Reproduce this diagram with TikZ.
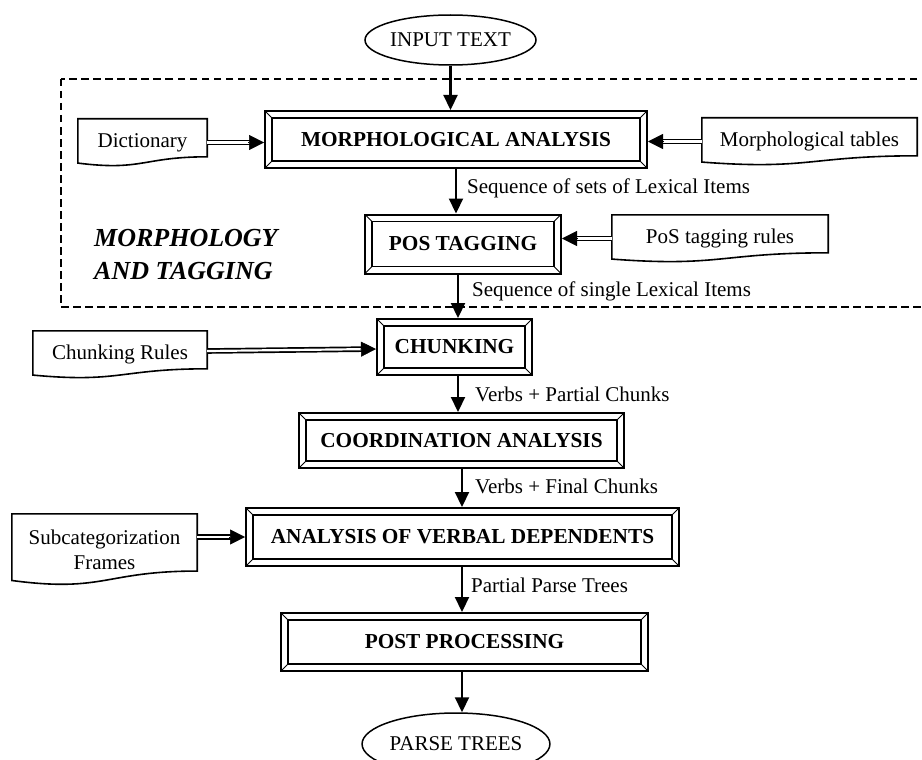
\documentclass[tikz,border=0pt]{standalone}
\usepackage{fontspec}
\setmainfont{Liberation Serif}
\usetikzlibrary{shapes.geometric,arrows.meta,calc}
\tikzset{
  txt/.style={font=\fontsize{21}{25}\selectfont, inner sep=0pt},
  bevel/.style={draw, line width=2pt, inner sep=0pt,
    font=\fontsize{21.3}{25}\selectfont\bfseries,
    path picture={
      \draw[line width=1.8pt] ([shift={(7pt,-7pt)}]path picture bounding box.north west) rectangle ([shift={(-7pt,7pt)}]path picture bounding box.south east);
      \draw[line width=1pt] (path picture bounding box.north west) -- ++(7pt,-7pt)
        (path picture bounding box.north east) -- ++(-7pt,-7pt)
        (path picture bounding box.south west) -- ++(7pt,7pt)
        (path picture bounding box.south east) -- ++(-7pt,7pt);
    }},
  oval/.style={ellipse, draw, line width=1.5pt, inner sep=0pt, font=\fontsize{21}{25}\selectfont},
  docnode/.style={inner sep=0pt, align=center, font=\fontsize{21}{25}\selectfont},
  docl/.style={line width=1.6pt, line join=miter},
  arr/.style={line width=2.2pt, -{Triangle[length=15pt,width=14pt]}},
  dblshaft/.style={double=white, double distance=2.2pt, line width=1.7pt, shorten >=13pt},
  dbltip/.style={line width=0.5pt, -{Triangle[length=15pt,width=15pt]}},
  frame/.style={line width=1.6pt, dash pattern=on 7.5pt off 4.5pt}
}
\newcommand{\mydocoutline}[1]{\draw[docl] (#1.north west) -- (#1.north east) -- ($(#1.north east)!0.802!(#1.south east)$) .. controls ($(#1.north)!0.802!(#1.south)$) and ($(#1.north)!1.107!(#1.south)$) .. ($(#1.north west)!0.934!(#1.south west)$) -- cycle;}
\newcommand{\mydblarrow}[2]{\draw[dblshaft] (#1) -- (#2); \draw[dbltip] ($(#2)!16pt!(#1)$) -- (#2);}
\begin{document}
\begin{tikzpicture}[x=1pt,y=-1pt]
\useasboundingbox (0,0) rectangle (922,760);
\clip (0,0) rectangle (922,760);

% group frame
\draw[frame] (61,79) rectangle (945,307);
\node[font=\fontsize{26}{33}\selectfont\bfseries\itshape, align=left, inner sep=0pt, anchor=west] (grp) at (94,255) {MORPHOLOGY\\AND TAGGING};

% main chain
\node[oval, minimum width=171pt, minimum height=50pt] (input) at (450.5,40) {INPUT TEXT};
\node[bevel, minimum width=382pt, minimum height=57pt] (morph) at (456,139.5) {MORPHOLOGICAL ANALYSIS};
\node[bevel, minimum width=196pt, minimum height=59pt] (pos) at (463,244) {POS TAGGING};
\node[bevel, minimum width=155pt, minimum height=56pt] (chunk) at (454.5,347) {CHUNKING};
\node[bevel, minimum width=325pt, minimum height=55pt] (coord) at (461.5,440.5) {COORDINATION ANALYSIS};
\node[bevel, minimum width=433pt, minimum height=58pt] (verbal) at (462.5,537) {ANALYSIS OF VERBAL DEPENDENTS};
\node[bevel, minimum width=367pt, minimum height=58pt] (post) at (464.5,642) {POST PROCESSING};
\node[oval, minimum width=182pt, minimum height=62pt] (parse) at (456,744) {PARSE TREES};

% documents
\node[docnode, minimum width=129pt, minimum height=47pt] (dict) at (142.5,142.5) {Dictionary};
\node[docnode, minimum width=215pt, minimum height=47pt] (mtab) at (809.5,141.5) {Morphological tables};
\node[docnode, minimum width=216pt, minimum height=47pt] (prules) at (720,238.5) {PoS tagging rules};
\node[docnode, minimum width=174pt, minimum height=47pt] (crules) at (120,354.5) {Chunking Rules};
\node[docnode, minimum width=185pt, minimum height=71pt] (subcat) at (104.5,549.5) {Subcategorization\\Frames};
\mydocoutline{dict}
\mydocoutline{mtab}
\mydocoutline{prules}
\mydocoutline{crules}
\mydocoutline{subcat}

% vertical arrows
\coordinate (c458) at (458,0);
\coordinate (c462) at (462,0);
\draw[arr] (input.south) -- (input.south |- morph.north);
\draw[arr] (morph.south) -- (morph.south |- pos.north);
\draw[arr] (pos.south -| c458) -- (chunk.north -| c458);
\draw[arr] (chunk.south -| c458) -- (coord.north -| c458);
\draw[arr] (coord.south -| c462) -- (verbal.north -| c462);
\draw[arr] (verbal.south -| c462) -- (post.north -| c462);
\draw[arr] (post.south -| c462) -- (parse.north -| c462);

% arrow labels
\node[txt, anchor=base west] (l1) at (467,193) {Sequence of sets of Lexical Items};
\node[txt, anchor=base west] (l2) at (472,296) {Sequence of single Lexical Items};
\node[txt, anchor=base west] (l3) at (475,401) {Verbs + Partial Chunks};
\node[txt, anchor=base west] (l4) at (475,493) {Verbs + Final Chunks};
\node[txt, anchor=base west] (l5) at (471,592) {Partial Parse Trees};

% double arrows from resources
\coordinate (e1) at (dict.east -| morph.west);
\mydblarrow{dict.east}{e1}
\coordinate (e2) at (mtab.west -| morph.east);
\mydblarrow{mtab.west}{e2}
\coordinate (e3) at (prules.west -| pos.east);
\mydblarrow{prules.west}{e3}
\coordinate (s4) at (crules.east |- 0,351);
\coordinate (e4) at (chunk.west |- 0,349);
\mydblarrow{s4}{e4}
\coordinate (s5) at (subcat.east |- verbal.west);
\mydblarrow{s5}{verbal.west}
\end{tikzpicture}
\end{document}
